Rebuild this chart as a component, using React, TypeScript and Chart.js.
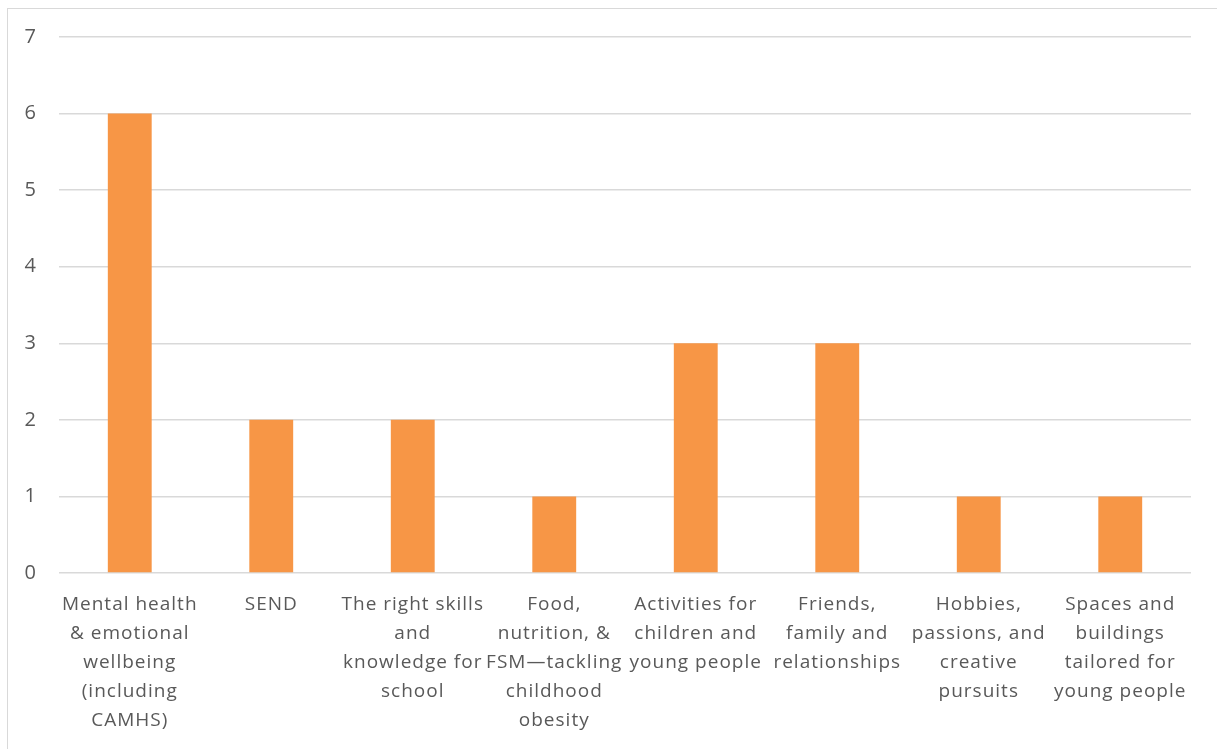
import { useEffect, useRef } from "react";
import { Chart, registerables } from "chart.js";

Chart.register(...registerables);

// Category labels, pre-wrapped into lines
const categories: string[][] = [
  ["Mental health", "& emotional", "wellbeing", "(including", "CAMHS)"],
  ["SEND"],
  ["The right skills", "and", "knowledge for", "school"],
  ["Food,", "nutrition, &", "FSM\u2014tackling", "childhood", "obesity"],
  ["Activities for", "children and", "young people"],
  ["Friends,", "family and", "relationships"],
  ["Hobbies,", "passions, and", "creative", "pursuits"],
  ["Spaces and", "buildings", "tailored for", "young people"],
];

const counts: number[] = [6, 2, 2, 1, 3, 3, 1, 1];

const yMin = 0;
const yMax = 7;
const yStep = 1;

const BAR_COLOR = "#F79646";
const GRID_COLOR = "#d9d9d9";
const TEXT_COLOR = "#595959";
const FONT_FAMILY = "'Open Sans', 'Noto Sans', sans-serif";

// Slightly loose tracking for all chart text
const looseText = {
  id: "looseText",
  beforeUpdate(chart: any) {
    chart.ctx.letterSpacing = "1px";
  },
  beforeDraw(chart: any) {
    chart.ctx.letterSpacing = "1px";
  },
};

export default function App() {
  const canvasRef = useRef<HTMLCanvasElement | null>(null);

  useEffect(() => {
    if (!canvasRef.current) return;
    const chart = new Chart(canvasRef.current, {
      type: "bar",
      data: {
        labels: categories,
        datasets: [
          {
            data: counts,
            backgroundColor: BAR_COLOR,
            borderWidth: 0,
            categoryPercentage: 1,
            barPercentage: 0.31,
          },
        ],
      },
      plugins: [looseText],
      options: {
        animation: false,
        responsive: false,
        maintainAspectRatio: false,
        layout: { padding: { top: 28, right: 25, bottom: 0, left: 0 } },
        plugins: {
          legend: { display: false },
          tooltip: { enabled: false },
        },
        scales: {
          x: {
            grid: { display: false, drawTicks: false },
            border: { display: false },
            ticks: {
              color: TEXT_COLOR,
              font: { family: FONT_FAMILY, size: 19, lineHeight: 29 / 19 },
              padding: 17,
              maxRotation: 0,
              minRotation: 0,
              autoSkip: false,
            },
            afterFit: (scale: any) => {
              scale.height = 175;
              scale.paddingLeft = 0;
              scale.paddingRight = 0;
            },
          },
          y: {
            min: yMin,
            max: yMax,
            grid: { color: GRID_COLOR, lineWidth: 1.5, drawTicks: false },
            border: { display: false },
            ticks: {
              stepSize: yStep,
              color: TEXT_COLOR,
              font: { family: FONT_FAMILY, size: 20 },
              padding: 22,
            },
            afterFit: (scale: any) => {
              scale.width = 51;
              scale.paddingTop = 0;
              scale.paddingBottom = 0;
            },
          },
        },
      },
    });
    return () => chart.destroy();
  }, []);

  return (
    <div
      style={{
        position: "fixed",
        left: 7,
        top: 8,
        width: 1210,
        height: 741,
        borderTop: `1.5px solid ${GRID_COLOR}`,
        borderLeft: `1.5px solid ${GRID_COLOR}`,
        background: "#fff",
        boxSizing: "border-box",
      }}
    >
      <canvas
        ref={canvasRef}
        width={1208}
        height={739}
        style={{ display: "block", width: 1208, height: 739 }}
      />
    </div>
  );
}
